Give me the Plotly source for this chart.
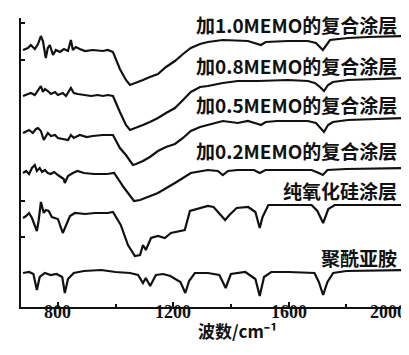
import plotly.graph_objects as go

# Wavenumber (cm-1) and offset transmittance (arbitrary units)
wn_10 = [679, 696, 706, 720, 731, 741, 748, 758, 765, 772, 783, 793, 807, 821, 835, 845, 852, 862, 876, 894, 921, 956, 973, 991,
         1015, 1036, 1050, 1071, 1095, 1119, 1147, 1175, 1206, 1234, 1261, 1293, 1320, 1372, 1459, 1504, 1521, 1598, 1667,
         1695, 1719, 1744, 1806, 1875, 2000]
t_10 = [257, 259, 262, 258, 263, 271, 266, 249, 259, 262, 252, 257, 255, 258, 256, 267, 257, 260, 258, 256, 257, 256, 257, 255,
        238, 227, 222, 224, 227, 230, 233, 240, 246, 253, 259, 263, 265, 267, 266, 262, 265, 266, 266,
        264, 257, 267, 269, 270, 271]

wn_08 = [679, 696, 706, 720, 731, 741, 748, 755, 765, 776, 790, 800, 817, 828, 845, 855, 869, 894, 915, 939, 956, 973, 991,
         1015, 1036, 1050, 1071, 1095, 1119, 1147, 1175, 1206, 1234, 1261, 1293, 1320, 1372, 1424, 1494, 1598, 1667,
         1691, 1709, 1723, 1737, 1754, 1806, 1997]
t_08 = [211, 213, 214, 212, 217, 221, 215, 218, 216, 213, 215, 212, 214, 211, 219, 214, 213, 212, 211, 212, 211, 212, 211,
        195, 182, 177, 179, 182, 185, 189, 194, 199, 207, 215, 220, 221, 224, 226, 226, 227, 226,
        224, 220, 216, 222, 225, 227, 229]

wn_05 = [679, 690, 700, 713, 724, 731, 741, 751, 765, 776, 790, 800, 820, 835, 845, 855, 876, 900, 921, 956, 991,
         1015, 1036, 1050, 1060, 1071, 1095, 1119, 1147, 1175, 1206, 1234, 1261, 1293, 1320, 1372, 1424, 1459, 1494, 1504,
         1521, 1560, 1598, 1667, 1695, 1710, 1723, 1737, 1754, 1806, 1997]
t_05 = [174, 176, 177, 174, 178, 179, 176, 167, 174, 171, 172, 169, 168, 167, 172, 169, 172, 170, 171, 172, 172,
        159, 152, 146, 142, 143, 146, 150, 156, 160, 163, 169, 176, 180, 182, 186, 184, 186, 183, 182,
        185, 186, 186, 186, 184, 179, 175, 182, 185, 187, 189]

wn_02 = [679, 690, 700, 710, 720, 727, 737, 745, 755, 765, 775, 787, 800, 812, 820, 824, 835, 852, 868, 890, 925, 970, 995,
         1030, 1064, 1085, 1147, 1206, 1261, 1320, 1355, 1372, 1390, 1424, 1480, 1500, 1520, 1600, 1680, 1705, 1719,
         1735, 1800, 1997]
t_02 = [134, 136, 133, 139, 142, 136, 139, 135, 137, 134, 133, 135, 132, 130, 128, 124, 131, 134, 136, 134, 133, 133, 134,
        119, 106, 107, 114, 124, 134, 137, 136, 132, 136, 137, 137, 134, 137, 137, 137, 134, 132,
        137, 138, 139]

wn_si = [679, 690, 700, 710, 727, 733, 741, 751, 758, 768, 779, 800, 817, 828, 842, 859, 894, 929, 973, 991,
         1018, 1043, 1067, 1085, 1095, 1105, 1123, 1147, 1171, 1192, 1240, 1258, 1320, 1340, 1365, 1380, 1395, 1420,
         1460, 1485, 1500, 1510, 1530, 1600, 1680, 1700, 1720, 1738, 1760, 1997]
t_si = [89, 91, 94, 89, 76, 86, 105, 94, 97, 96, 90, 88, 74, 82, 91, 94, 93, 94, 94, 95,
        82, 62, 51, 52, 62, 57, 69, 71, 69, 74, 77, 96, 101, 100, 92, 87, 92, 99,
        100, 95, 79, 90, 102, 102, 102, 96, 84, 98, 102, 102]

wn_pi = [679, 700, 715, 727, 737, 755, 775, 795, 815, 824, 835, 855, 890, 950, 1000, 1050, 1078, 1095, 1105, 1120, 1140,
         1165, 1190, 1225, 1242, 1255, 1275, 1320, 1360, 1382, 1400, 1450, 1485, 1500, 1515, 1540, 1600, 1690, 1705,
         1720, 1735, 1755, 1800, 1997]
t_pi = [34, 35, 33, 17, 30, 34, 32, 33, 30, 14, 28, 34, 36, 37, 35, 34, 32, 24, 29, 21, 32,
        33, 31, 25, 14, 26, 34, 34, 32, 19, 33, 35, 28, 11, 30, 35, 35, 34, 25,
        12, 25, 34, 36, 37]

series = [(wn_10, t_10), (wn_08, t_08), (wn_05, t_05), (wn_02, t_02), (wn_si, t_si), (wn_pi, t_pi)]
labels = ["加1.0MEMO的复合涂层", "加0.8MEMO的复合涂层", "加0.5MEMO的复合涂层",
          "加0.2MEMO的复合涂层", "纯氧化硅涂层", "聚酰亚胺"]
label_y = [283, 242, 203, 157, 117, 50]

x_major = [800, 1200, 1600, 2000]
x_minor = [1000, 1400, 1800]
y_ticks = [284, 247, 106, 70]

fig = go.Figure()
for (xs, ys) in series:
    fig.add_trace(go.Scatter(x=xs, y=ys, mode="lines",
                             line=dict(color="#111111", width=2.2), showlegend=False))

for lab, ly in zip(labels, label_y):
    fig.add_annotation(x=1995, y=ly, xref="x", yref="y", text=lab, showarrow=False,
                       xanchor="right", yanchor="middle", xshift=-3,
                       font=dict(family="Noto Sans CJK SC", size=19, color="#111111", weight="bold"))

# x tick labels, placed at the data positions of the ticks (last one kept inside the page)
for v in x_major:
    last = v == x_major[-1]
    fig.add_annotation(x=v, y=-0.018, xref="x", yref="paper", text=str(v), showarrow=False,
                       xanchor="right" if last else "center", xshift=4 if last else 0,
                       yanchor="middle",
                       font=dict(family="Liberation Serif", size=18, color="#111111", weight="bold"))

fig.add_annotation(x=231 / 409, y=-0.082, xref="paper", yref="paper",
                   text="波数/cm⁻¹", showarrow=False, xanchor="center", yanchor="middle",
                   font=dict(family="Noto Sans CJK SC", size=17, color="#111111", weight="bold"))

fig.update_layout(
    width=409, height=355,
    margin=dict(l=13, r=13, t=10, b=56),
    paper_bgcolor="white", plot_bgcolor="white",
    xaxis=dict(range=[672, 2000.5], showgrid=False, zeroline=False,
               showline=True, linecolor="#111111", linewidth=2,
               tickvals=x_major, showticklabels=False,
               ticks="inside", ticklen=5, tickwidth=2, tickcolor="#111111",
               minor=dict(tickvals=x_minor, ticks="inside", ticklen=3, tickwidth=2, tickcolor="#111111")),
    yaxis=dict(range=[0, 289], showgrid=False, zeroline=False,
               showline=True, linecolor="#111111", linewidth=2,
               tickvals=y_ticks, showticklabels=False,
               ticks="inside", ticklen=4, tickwidth=2, tickcolor="#111111"),
)

fig.write_html("out.html")
